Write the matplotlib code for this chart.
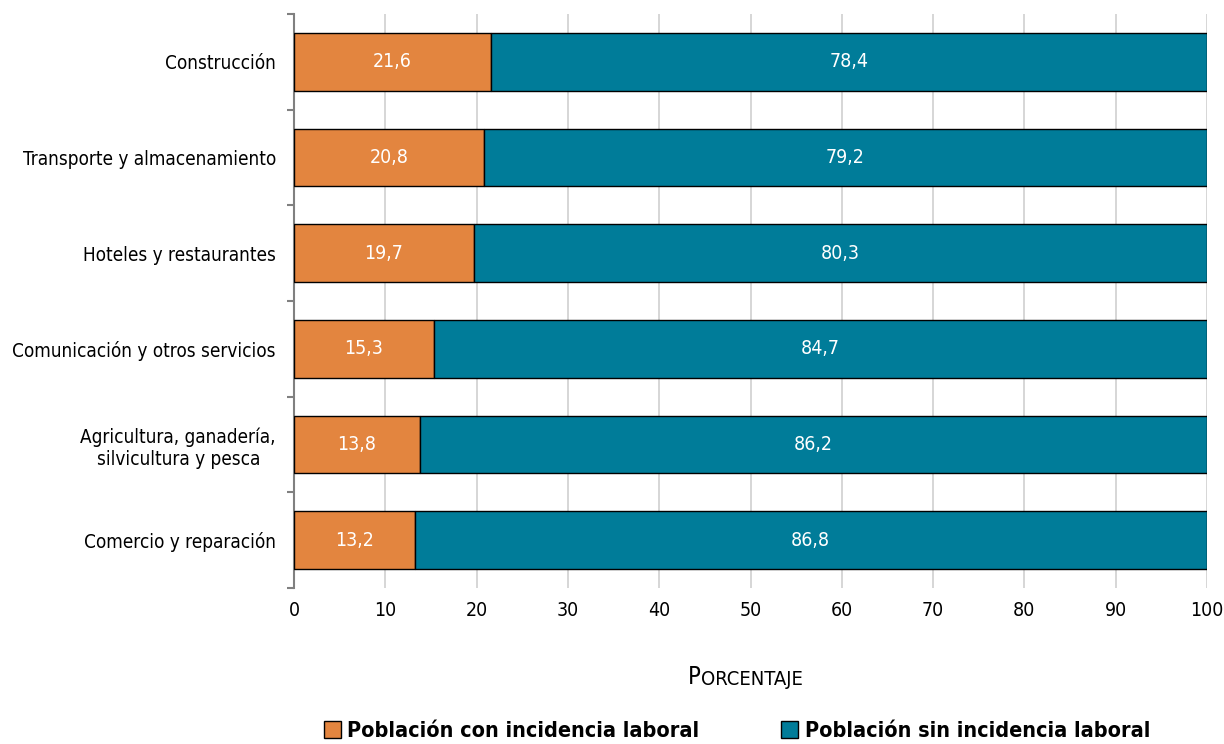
import matplotlib.pyplot as plt
import numpy as np

plt.rcParams['font.family'] = ['DejaVu Sans']
plt.rcParams['font.stretch'] = 'condensed'

categories = ['Construcción', 'Transporte y almacenamiento', 'Hoteles y restaurantes',
              'Comunicación y otros servicios', 'Agricultura, ganadería,\nsilvicultura y pesca',
              'Comercio y reparación']
con_incidencia = [21.6, 20.8, 19.7, 15.3, 13.8, 13.2]
sin_incidencia = [78.4, 79.2, 80.3, 84.7, 86.2, 86.8]

c_orange = '#E3853F'
c_teal = '#007C99'

fig = plt.figure(figsize=(12.24, 7.44), dpi=100)
ax = fig.add_axes([294 / 1224, 1 - 588 / 744, (1207 - 294) / 1224, (588 - 14) / 744])

y = np.arange(len(categories))[::-1]
ax.barh(y, con_incidencia, height=0.6, color=c_orange, edgecolor='black', linewidth=1,
        label='Población con incidencia laboral', zorder=3)
ax.barh(y, sin_incidencia, left=con_incidencia, height=0.6, color=c_teal, edgecolor='black',
        linewidth=1, label='Población sin incidencia laboral', zorder=3)

for yi, a, b in zip(y, con_incidencia, sin_incidencia):
    ax.text(a / 2, yi, f'{a:.1f}'.replace('.', ','), ha='center', va='center',
            color='white', fontsize=14, zorder=4)
    ax.text(a + b / 2, yi, f'{b:.1f}'.replace('.', ','), ha='center', va='center',
            color='white', fontsize=14, zorder=4)

ax.set_xlim(0, 100)
ax.set_ylim(-0.5, len(categories) - 0.5)
ax.set_xticks(range(0, 101, 10))
ax.tick_params(axis='x', length=0, labelsize=14, pad=9)
ax.xaxis.grid(True, color='#D0D0D0', linewidth=1.2, zorder=0)

ax.set_yticks(y)
ax.set_yticklabels(categories, fontsize=13.6)
ax.set_yticks(np.arange(-0.5, len(categories)), minor=True)
ax.tick_params(axis='y', which='major', length=0, pad=13)
ax.tick_params(axis='y', which='minor', length=5, color='#808080', width=1.5)
for lbl in ax.get_yticklabels():
    lbl.set_multialignment('center')

for s in ['top', 'right', 'bottom']:
    ax.spines[s].set_visible(False)
ax.spines['left'].set_color('#808080')
ax.spines['left'].set_linewidth(1.5)

# small caps axis title
t1 = fig.text(701 / 1224, 1 - 684 / 744, 'P', fontsize=17, ha='right', va='baseline')
ax.annotate('ORCENTAJE', xy=(1, 0), xycoords=t1, va='bottom', ha='left', fontsize=14.5)

fig.legend(loc='lower center', bbox_to_anchor=(0.602, -0.022), ncol=2, frameon=False,
           handlelength=0.8, handleheight=0.8, columnspacing=3.8, handletextpad=0.3,
           prop={'weight': 'bold', 'size': 15.5})

fig.savefig('out.png', dpi=100)
